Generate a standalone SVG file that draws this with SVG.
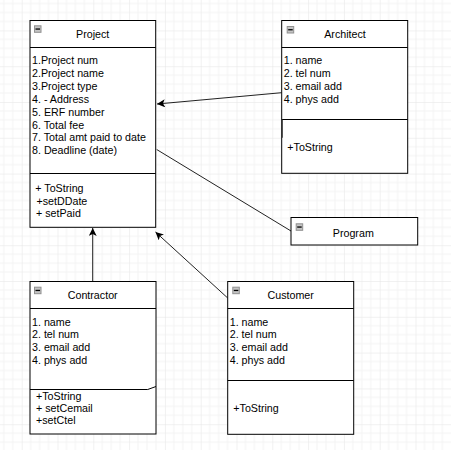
<svg xmlns="http://www.w3.org/2000/svg" width="451" height="450" viewBox="0 0 451 450">
<defs>
<pattern id="grid" x="21.7" y="30.4" width="35.8" height="35.8" patternUnits="userSpaceOnUse">
<path d="M8.95,0V35.8M17.9,0V35.8M26.85,0V35.8M0,8.95H35.8M0,17.9H35.8M0,26.85H35.8" stroke="#f3f3f3" stroke-width="1" fill="none"/>
<path d="M0,0V35.8M0,0H35.8" stroke="#e4e4e4" stroke-width="1" fill="none"/>
</pattern>
<marker id="arr" viewBox="0 0 10 10" refX="10" refY="5" markerWidth="8" markerHeight="8" markerUnits="userSpaceOnUse" orient="auto">
<path d="M0,0 L10,5 L0,10 L2.5,5 z" fill="#000"/>
</marker>
<g id="icon">
<rect x="0.5" y="0.5" width="6.5" height="6.5" fill="#c4c4c4" stroke="#909090" stroke-width="1"/>
<line x1="1.5" y1="3.75" x2="6" y2="3.75" stroke="#000" stroke-width="1.3"/>
</g>
</defs>
<style>
.box{fill:#fff;stroke:#000;stroke-width:1}
.sep{stroke:#000;stroke-width:1;fill:none}
text{font-family:"Liberation Sans",Arial,Helvetica,sans-serif;font-size:10.7px;fill:#000}
.title{text-anchor:middle}
.conn{stroke:#222;stroke-width:1;fill:none}
</style>
<rect x="0" y="0" width="451" height="450" fill="#fff"/>
<rect x="0" y="0" width="451" height="450" fill="url(#grid)"/>

<g id="connectors">
<path class="conn" d="M281.7,92.7 L157,104" marker-end="url(#arr)"/>
<path class="conn" d="M156.7,149.5 L291,231"/>
<path class="conn" d="M227.7,298 L155.5,232" marker-end="url(#arr)"/>
<path class="conn" d="M92.7,281.7 L92.7,228" marker-end="url(#arr)"/>
</g>

<g id="project">
<rect class="box" x="30" y="20.5" width="125.7" height="206.8"/>
<path class="sep" d="M30,47.5H155.7M30,173.5H155.7"/>
<use href="#icon" x="34" y="25.3"/>
<text class="title" x="92.7" y="37.8">Project</text>
<text x="32" y="64.1">1.Project num</text>
<text x="32" y="77">2.Project name</text>
<text x="32" y="89.9">3.Project type</text>
<text x="32" y="102.7">4. - Address</text>
<text x="32" y="115.6">5. ERF number</text>
<text x="32" y="128.5">6. Total fee</text>
<text x="32" y="141.4">7. Total amt paid to date</text>
<text x="32" y="154.1">8. Deadline (date)</text>
<text x="35.3" y="192.1">+ ToString</text>
<text x="36.5" y="204.8">+setDDate</text>
<text x="36" y="216.5">+ setPaid</text>
</g>

<g id="architect">
<rect class="box" x="281.7" y="20.5" width="126" height="152.8"/>
<path class="sep" d="M281.7,47.5H407.7M281.7,119.5H407.7"/>
<line x1="282" y1="119.5" x2="282" y2="137.7" stroke="#333" stroke-width="1.6"/>
<use href="#icon" x="286.7" y="26"/>
<text class="title" x="345" y="37.8">Architect</text>
<text x="283.7" y="63.8">1. name</text>
<text x="283.7" y="77.1">2. tel num</text>
<text x="283.7" y="90.1">3. email add</text>
<text x="283.7" y="103.1">4. phys add</text>
<text x="287.3" y="150.5">+ToString</text>
</g>

<g id="program">
<rect class="box" x="291" y="217.5" width="126.7" height="27.5"/>
<use href="#icon" x="295.7" y="223.3"/>
<text class="title" x="353.3" y="236.5">Program</text>
</g>

<g id="contractor">
<rect class="box" x="30" y="281.5" width="126" height="152.5"/>
<path class="sep" d="M30,308.5H156M30,389.5H147.7L156,386.5"/>
<use href="#icon" x="34" y="286.7"/>
<text class="title" x="92.7" y="298.8">Contractor</text>
<text x="32" y="325.5">1. name</text>
<text x="32" y="338.1">2. tel num</text>
<text x="32" y="351.1">3. email add</text>
<text x="32" y="364.1">4. phys add</text>
<text x="36" y="399.5">+ToString</text>
<text x="36" y="411.5">+ setCemail</text>
<text x="36" y="423.8">+setCtel</text>
</g>

<g id="customer">
<rect class="box" x="227.7" y="281.5" width="126" height="152.8"/>
<path class="sep" d="M227.7,308.5H353.7M227.7,380.5H353.7"/>
<use href="#icon" x="232.3" y="286.7"/>
<text class="title" x="290.7" y="298.8">Customer</text>
<text x="229.7" y="325.5">1. name</text>
<text x="229.7" y="338.1">2. tel num</text>
<text x="229.7" y="351.1">3. email add</text>
<text x="229.7" y="364.1">4. phys add</text>
<text x="233.3" y="411.8">+ToString</text>
</g>
</svg>
